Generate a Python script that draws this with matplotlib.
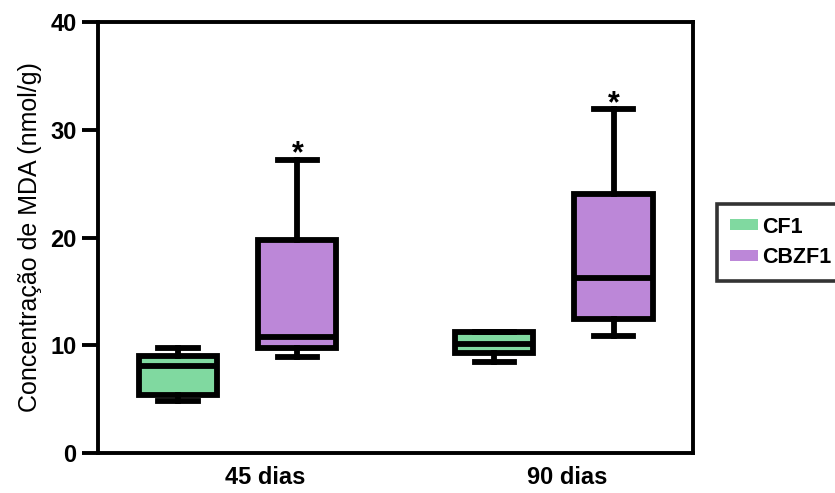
import matplotlib
matplotlib.use("Agg")
import matplotlib.pyplot as plt
from matplotlib.patches import Patch

plt.rcParams['font.family'] = ['Liberation Sans', 'DejaVu Sans']

groups = ["45 dias", "90 dias"]
series = ["CF1", "CBZF1"]
colors = ["#80d9a0", "#bc87d8"]

# box stats per series per group: whislo, q1, med, q3, whishi
cf1_whislo = [4.8, 8.45]
cf1_q1 = [5.4, 9.3]
cf1_med = [8.1, 10.1]
cf1_q3 = [9.0, 11.2]
cf1_whishi = [9.7, 11.2]

cbzf1_whislo = [8.95, 10.9]
cbzf1_q1 = [9.7, 12.4]
cbzf1_med = [10.75, 16.2]
cbzf1_q3 = [19.75, 24.0]
cbzf1_whishi = [27.2, 31.9]

star_labels = ["*", "*"]

fig = plt.figure(figsize=(8.35, 4.93), dpi=100)
ax = fig.add_axes([0.1174, 0.0811, 0.7126, 0.8743])

offset = 0.189
width = 0.247
lw = 4.2
label_shift = [0.086, 0.042]

def stats(lo, q1, med, q3, hi):
    return [dict(whislo=lo[i], q1=q1[i], med=med[i], q3=q3[i], whishi=hi[i], fliers=[])
            for i in range(len(lo))]

all_stats = [stats(cf1_whislo, cf1_q1, cf1_med, cf1_q3, cf1_whishi),
             stats(cbzf1_whislo, cbzf1_q1, cbzf1_med, cbzf1_q3, cbzf1_whishi)]

for s, (st, col) in enumerate(zip(all_stats, colors)):
    pos = [g + 1 + (offset if s == 1 else -offset) for g in range(len(groups))]
    ax.bxp(st, positions=pos, widths=width, patch_artist=True, showfliers=False,
           boxprops=dict(facecolor=col, edgecolor='black', linewidth=lw),
           medianprops=dict(color='black', linewidth=lw),
           whiskerprops=dict(color='black', linewidth=lw),
           capprops=dict(color='black', linewidth=lw),
           capwidths=width * 0.5, manage_ticks=False)

for g in range(len(groups)):
    ax.text(g + 1 + offset, cbzf1_whishi[g] - 0.25, star_labels[g], ha='center', va='baseline',
            fontsize=22, fontweight='bold')

ax.set_xlim(0.558, 2.4407)
ax.set_ylim(0, 40)
ax.set_yticks([0, 10, 20, 30, 40])
ax.set_xticks([g + 1 + label_shift[g] for g in range(len(groups))])
ax.set_xticklabels(groups, fontsize=17, fontweight='bold')
for lab in ax.get_yticklabels():
    lab.set_fontweight('bold')
    lab.set_fontsize(17)
ax.tick_params(axis='x', length=0, pad=9)
ax.tick_params(axis='y', length=11.5, width=2.8, pad=4)
for sp in ax.spines.values():
    sp.set_linewidth(2.8)
ax.set_ylabel("Concentração de MDA (nmol/g)", fontsize=18, labelpad=6)

handles = [Patch(facecolor=c, edgecolor='none', label=l) for c, l in zip(colors, series)]
leg = fig.legend(handles=handles, loc='upper left', bbox_to_anchor=(0.8587, 0.587),
                 borderaxespad=0.0,
                 frameon=True, fancybox=False, edgecolor='black',
                 handlelength=1.3, handleheight=0.42, handletextpad=0.2, borderpad=0.6,
                 labelspacing=0.45, prop=dict(weight='bold', size=15.5))
leg.get_frame().set_linewidth(2.6)

fig.savefig("out.png", dpi=100)
